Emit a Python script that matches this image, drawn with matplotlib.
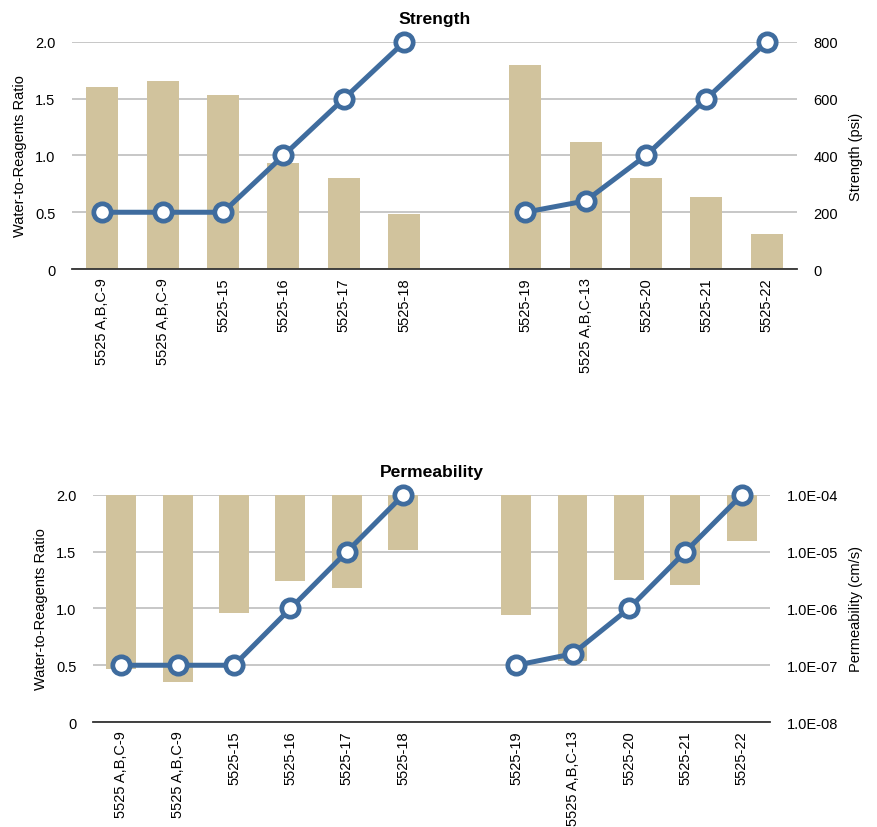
import matplotlib
matplotlib.use('Agg')
import matplotlib.pyplot as plt
import numpy as np

plt.rcParams['font.family'] = ['Liberation Sans', 'DejaVu Sans']
plt.rcParams['font.size'] = 10.5

# Sample names (an empty slot separates the two series)
samples = ['5525 A,B,C-9', '5525 A,B,C-9', '5525-15', '5525-16', '5525-17', '5525-18', '',
           '5525-19', '5525 A,B,C-13', '5525-20', '5525-21', '5525-22']

# Water-to-reagents ratio (line), None for the empty slot
ratio = [0.5, 0.5, 0.5, 1.0, 1.5, 2.0, None, 0.5, 0.6, 1.0, 1.5, 2.0]

# Unconfined strength in psi (bars)
strength = [642, 661, 614, 375, 321, 195, None, 720, 449, 319, 252, 125]

# Permeability in cm/s (bars hang down from 1.0E-04)
permeability = [8.5e-8, 5.1e-8, 8.3e-7, 3.05e-6, 2.3e-6, 1.07e-5, None,
                7.7e-7, 1.19e-7, 3.2e-6, 2.6e-6, 1.55e-5]

bar_color = '#D1C39D'
line_color = '#3F6C9E'
grid_color = '#BEBEBE'

fig = plt.figure(figsize=(8.77, 8.28), dpi=100)

x = np.arange(len(samples))


def draw_line(ax):
    # two separate runs, one for each series
    for idx in (range(0, 6), range(7, 12)):
        xs = [x[i] for i in idx]
        ys = [ratio[i] for i in idx]
        ax.plot(xs, ys, color=line_color, lw=3.6, marker='o', ms=12.5,
                mfc='white', mec=line_color, mew=3.4, zorder=5, clip_on=False)


def style(ax, axr):
    for a in (ax, axr):
        for s in ['top', 'left', 'right']:
            a.spines[s].set_visible(False)
        a.tick_params(length=0)
    axr.spines['bottom'].set_visible(False)
    ax.spines['bottom'].set_color('#333333')
    ax.spines['bottom'].set_linewidth(1.3)
    ax.tick_params(axis='y', pad=12)
    axr.tick_params(axis='y', pad=12)
    ax.tick_params(axis='x', pad=6)
    axr.set_axisbelow(True)
    axr.yaxis.grid(True, color=grid_color, lw=1.2)
    ax.set_zorder(axr.get_zorder() + 1)
    ax.patch.set_visible(False)
    ax.set_xlim(-0.5, len(samples) - 0.5)
    ax.set_ylim(0, 2.0)
    ax.set_yticks([0, 0.5, 1.0, 1.5, 2.0])
    ax.set_yticklabels(['0', '0.5', '1.0', '1.5', '2.0'])
    ticks = [i for i in x if samples[i]]
    ax.set_xticks(ticks)
    ax.set_xticklabels([samples[i] for i in ticks], rotation=90, va='top')


# Strength chart
ax1 = fig.add_axes([0.0821, 0.6739, 0.8267, 0.2742])
ax1r = ax1.twinx()
bx = [x[i] for i in range(len(samples)) if strength[i] is not None]
bv = [s for s in strength if s is not None]
ax1r.bar(bx, bv, width=0.53, color=bar_color)
ax1r.set_ylim(0, 800)
ax1r.set_yticks([0, 200, 400, 600, 800])
draw_line(ax1)
style(ax1, ax1r)
ax1.set_title('Strength', fontweight='bold', pad=14)
ax1.set_ylabel('Water-to-Reagents Ratio', labelpad=6)
ax1r.set_ylabel('Strength (psi)', labelpad=8)

# Permeability chart
ax2 = fig.add_axes([0.1060, 0.1268, 0.7720, 0.2742])
ax2r = ax2.twinx()
ax2r.set_yscale('log')
top = 1e-4
px = [x[i] for i in range(len(samples)) if permeability[i] is not None]
pv = [p for p in permeability if p is not None]
ax2r.bar(px, [top - p for p in pv], bottom=pv, width=0.53, color=bar_color)
ax2r.set_ylim(1e-8, 1e-4)
ax2r.set_yticks([1e-8, 1e-7, 1e-6, 1e-5, 1e-4])
ax2r.set_yticklabels(['1.0E-08', '1.0E-07', '1.0E-06', '1.0E-05', '1.0E-04'])
ax2r.yaxis.set_minor_locator(matplotlib.ticker.NullLocator())
draw_line(ax2)
style(ax2, ax2r)
ax2.set_title('Permeability', fontweight='bold', pad=14)
ax2.set_ylabel('Water-to-Reagents Ratio', labelpad=6)
ax2r.set_ylabel('Permeability (cm/s)', labelpad=8)

fig.savefig('out.png', dpi=100, facecolor='white')
